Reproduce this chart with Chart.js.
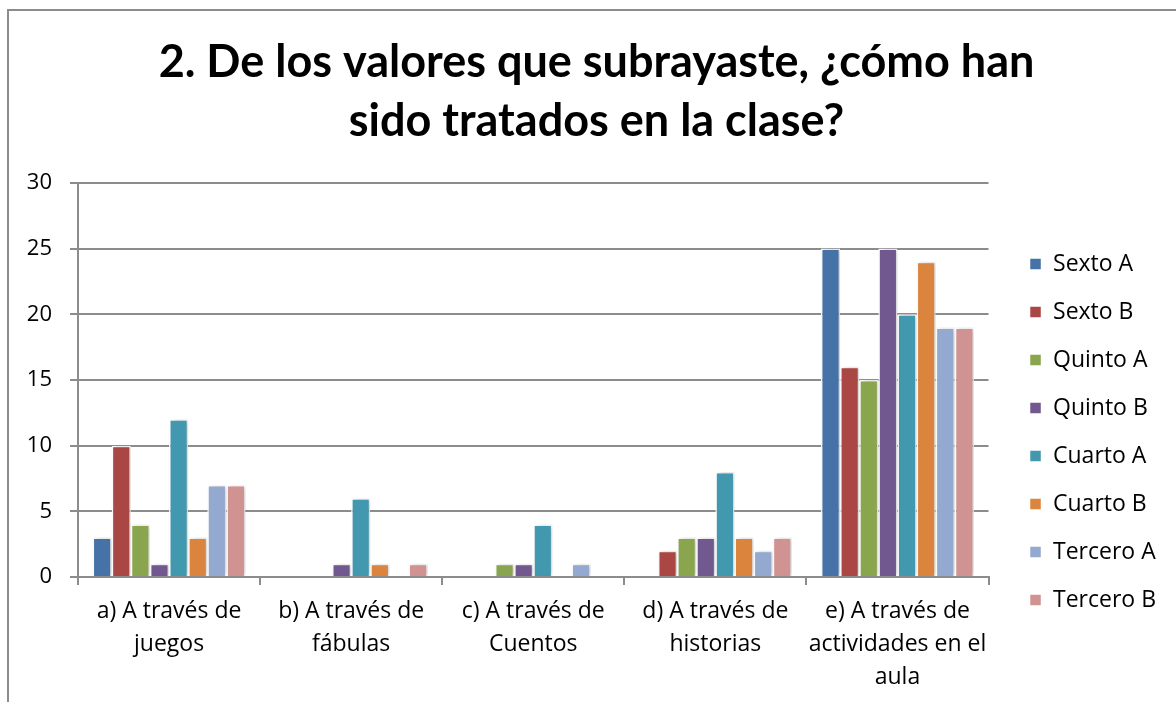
<!DOCTYPE html>
<html>
<head>
<meta charset="utf-8">
<script src="https://cdn.jsdelivr.net/npm/chart.js@4/dist/chart.umd.min.js"></script>
<style>
html,body{margin:0;padding:0;background:#fff;width:1176px;height:702px;overflow:hidden}
#wrap{position:absolute;left:0;top:0;width:1176px;height:702px}
#frame{position:absolute;left:7px;top:9px;width:1200px;height:800px;border-top:2px solid #8c8c8c;border-left:2px solid #8c8c8c;pointer-events:none}
</style>
</head>
<body>
<div id="wrap"><canvas id="c" width="1176" height="702"></canvas></div>
<div id="frame"></div>
<script>
const titleLines = ["2. De los valores que subrayaste, ¿cómo han", "sido tratados en la clase?"];
const categories = [
  ["a) A través de", "juegos"],
  ["b) A través de", "fábulas"],
  ["c) A través de", "Cuentos"],
  ["d) A través de", "historias"],
  ["e) A través de", "actividades en el", "aula"]
];
const seriesNames = ["Sexto A","Sexto B","Quinto A","Quinto B","Cuarto A","Cuarto B","Tercero A","Tercero B"];
const sextoA   = [3, 0, 0, 0, 25];
const sextoB   = [10, 0, 0, 2, 16];
const quintoA  = [4, 0, 1, 3, 15];
const quintoB  = [1, 1, 1, 3, 25];
const cuartoA  = [12, 6, 4, 8, 20];
const cuartoB  = [3, 1, 0, 3, 24];
const terceroA = [7, 0, 1, 2, 19];
const terceroB = [7, 1, 0, 3, 19];
const seriesValues = [sextoA, sextoB, quintoA, quintoB, cuartoA, cuartoB, terceroA, terceroB];
const colors = ["#4572A7","#AA4643","#89A54E","#71588F","#4198AF","#DB843D","#93A9CF","#D19392"];
const yTicks = {min: 0, max: 30, step: 5};

const shadowPlugin = {
  id: 'barShadow',
  beforeDatasetsDraw(chart){ const c = chart.ctx; c.save(); c.shadowColor='rgba(0,0,0,0.22)'; c.shadowBlur=5; c.shadowOffsetX=2; c.shadowOffsetY=0; },
  afterDatasetsDraw(chart){ chart.ctx.restore(); }
};

const TFONT = "Lato, 'Open Sans', sans-serif";
const FONT = "'Open Sans', Lato, sans-serif";
new Chart(document.getElementById('c'), {
  type: 'bar',
  data: {
    labels: categories,
    datasets: seriesNames.map((n,i)=>({
      label: n, data: seriesValues[i], backgroundColor: colors[i],
      borderColor: '#ffffff', borderWidth: 1.5, borderSkipped: 'bottom',
      categoryPercentage: 0.84, barPercentage: 1.0, yAxisID: 'y'
    }))
  },
  plugins: [shadowPlugin],
  options: {
    responsive: false, animation: false,
    layout: {padding: {left: 27, right: 10, top: 0, bottom: 0}},
    plugins: {
      title: {display: true, text: titleLines, color: '#000',
        font: {family: TFONT, size: 45, weight: 'bold', lineHeight: 1.31},
        padding: {top: 33, bottom: 32}},
      legend: {position: 'right', align: 'center',
        title: {display: true, text: '', font: {size: 10}, padding: {top: 150, bottom: 0}},
        labels: {boxWidth: 12, boxHeight: 12, padding: 25, color: '#000',
          font: {family: FONT, size: 23}}},
      tooltip: {enabled: false}
    },
    scales: {
      x: {
        grid: {display: true, drawOnChartArea: false, drawTicks: true, tickLength: 8, color: '#8c8c8c', lineWidth: 2, offset: true},
        border: {display: true, color: '#8c8c8c', width: 2},
        ticks: {color: '#000', font: {family: FONT, size: 23, lineHeight: 1.43}, padding: 10, maxRotation: 0, autoSkip: false},
        afterFit(s){ s.paddingLeft = 0; s.paddingRight = 0; s.height = 125; }
      },
      y: {
        min: yTicks.min, max: yTicks.max,
        grid: {color: '#8c8c8c', lineWidth: 2, tickLength: 8, drawTicks: true},
        border: {display: true, color: '#8c8c8c', width: 2},
        ticks: {stepSize: yTicks.step, color: '#000', font: {family: FONT, size: 22}, padding: 18},
        afterFit(s){ s.width = 51; }
      },
      gap: {
        position: 'right', display: true,
        grid: {display: false, drawTicks: false}, border: {display: false},
        ticks: {display: false},
        afterFit(s){ s.width = 16; }
      }
    }
  }
});
</script>
</body>
</html>
